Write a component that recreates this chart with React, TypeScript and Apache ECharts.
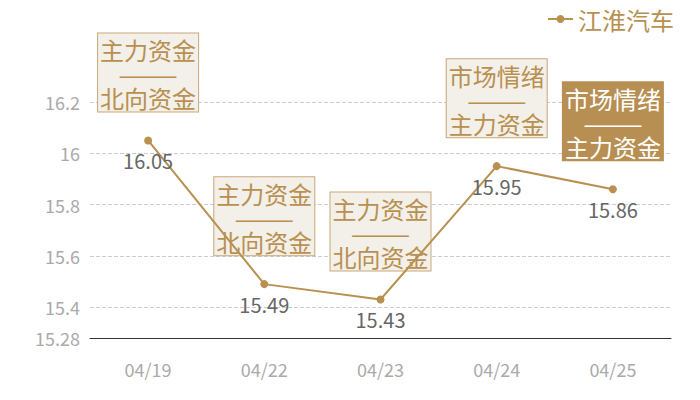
import React, { useEffect, useRef } from "react";
import * as echarts from "echarts";

const dates = ["04/19", "04/22", "04/23", "04/24", "04/25"];
const prices = [16.05, 15.49, 15.43, 15.95, 15.86];
const tags = [
  "主力资金\n———\n北向资金",
  "主力资金\n———\n北向资金",
  "主力资金\n———\n北向资金",
  "市场情绪\n———\n主力资金",
  "市场情绪\n———\n主力资金",
];
const highlighted = [false, false, false, false, true];
const seriesName = "江淮汽车";
const yMin = 15.28;
const yMax = 16.2;

const GOLD = "#b8904f";
const FONT = "'Noto Sans CJK SC', 'Noto Sans', sans-serif";

export default function App() {
  const ref = useRef<HTMLDivElement>(null);
  useEffect(() => {
    document.body.style.margin = "0";
    const chart = echarts.init(ref.current!, null, { renderer: "svg" });
    chart.setOption({
      animation: false,
      textStyle: { fontFamily: FONT },
      legend: {
        data: [seriesName],
        right: 21,
        top: 2,
        itemWidth: 25,
        itemHeight: 10,
        itemGap: 6,
        textStyle: { color: GOLD, fontSize: 24, fontFamily: FONT },
      },
      grid: { left: 90, right: 29, top: 102, bottom: 62 },
      xAxis: {
        type: "category",
        data: dates,
        boundaryGap: true,
        axisLine: { lineStyle: { color: "#333", width: 1 } },
        axisTick: { show: false },
        axisLabel: { color: "#aaa", fontSize: 18, margin: 22, fontFamily: FONT },
      },
      yAxis: {
        type: "value",
        min: yMin,
        max: yMax,
        splitNumber: 5,
        axisLine: { show: false },
        axisTick: { show: false },
        axisLabel: { color: "#aaa", fontSize: 18, margin: 10, fontFamily: FONT },
        splitLine: { lineStyle: { color: "#ccc", type: "dashed" } },
      },
      series: [
        {
          name: seriesName,
          type: "line",
          data: prices,
          symbol: "circle",
          symbolSize: 8,
          itemStyle: { color: GOLD },
          lineStyle: { color: GOLD, width: 2 },
          label: {
            show: true,
            position: "bottom",
            distance: 6,
            color: "#666",
            fontSize: 20,
            fontFamily: FONT,
          },
        },
        {
          name: "tags",
          type: "scatter",
          symbolSize: 0,
          silent: true,
          itemStyle: { opacity: 1, color: GOLD },
          data: prices.map((v, i) => ({
            value: v,
            label: highlighted[i]
              ? {
                  color: "#fff",
                  backgroundColor: "#b88f52",
                  borderColor: "#b88f52",
                }
              : {},
          })),
          label: {
            show: true,
            position: "top",
            distance: 29,
            formatter: (p: any) => tags[p.dataIndex],
            color: GOLD,
            fontSize: 24,
            lineHeight: 24,
            fontFamily: FONT,
            padding: [4, 2, 2, 2],
            backgroundColor: "#f3efe9",
            borderColor: "#c9a878",
            borderWidth: 1,
          },
        },
      ],
    });
    return () => chart.dispose();
  }, []);
  return <div ref={ref} style={{ width: 700, height: 400 }} />;
}
